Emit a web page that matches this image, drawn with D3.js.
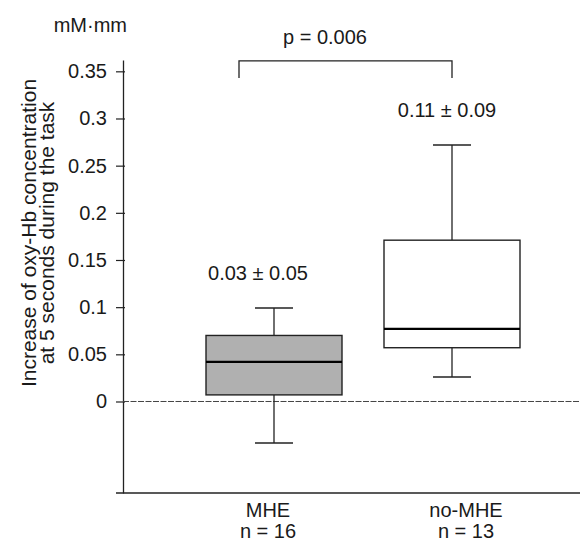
<!DOCTYPE html>
<html>
<head>
<meta charset="utf-8">
<script src="https://cdn.jsdelivr.net/npm/d3@7"></script>
<style>
    html, body {
        margin: 0;
        padding: 0;
        background: #fff;
    }

    svg text {
        font-family: "Liberation Sans", Arial, sans-serif;
        fill: #1a1a1a;
    }
</style>
</head>
<body>
<div id="chart"></div>
<script>
	// values
	const groups = ["MHE", "no-MHE"];
	const groupN = ["n = 16", "n = 13"];
	const whiskerLow = [-0.044, 0.026];
	const q1 = [0.007, 0.057];
	const median = [0.042, 0.077];
	const q3 = [0.070, 0.171];
	const whiskerHigh = [0.099, 0.272];
	const meanLabels = ["0.03 ± 0.05", "0.11 ± 0.09"];
	const yTicks = [0, 0.05, 0.1, 0.15, 0.2, 0.25, 0.3, 0.35];
	const pLabel = "p = 0.006";
	const unitLabel = "mM·mm";
	const yTitle = ["Increase of oxy-Hb concentration", "at 5 seconds during the task"];

	const width = 580;
	const height = 542;
	const axisX = 123;
	const boxWidth = 136;
	const capWidth = 38;
	const ink = "#222";
	const fills = {"MHE": "#b0b0b0", "no-MHE": "#ffffff"};

	const x = d3.scalePoint(groups, [274, 452]);
	const labelX = d3.scalePoint(groups, [268, 466]);
	const meanX = d3.scalePoint(groups, [258, 447]);
	const y = d3.scaleLinear([-0.097, 0.362], [493, 60]);

	const data = groups.map((g, i) => ({
		group: g,
		n: groupN[i],
		lo: whiskerLow[i],
		q1: q1[i],
		med: median[i],
		q3: q3[i],
		hi: whiskerHigh[i],
		mean: meanLabels[i]
	}));

	const svg = d3.select("#chart").append("svg")
			.attr("width", width)
			.attr("height", height)
			.attr("viewBox", [0, 0, width, height]);

	// y axis
	svg.append("g")
			.attr("transform", `translate(${axisX},0)`)
			.call(d3.axisLeft(y)
					.tickValues(yTicks)
					.tickSize(7)
					.tickSizeOuter(0)
					.tickPadding(9)
					.tickFormat(d => String(d)))
			.call(g => g.selectAll("line").attr("x1", 2).attr("stroke", ink).attr("stroke-width", 1.2))
			.call(g => g.select(".domain").attr("stroke", ink).attr("stroke-width", 1.3))
			.call(g => g.selectAll("text")
					.attr("font-size", 20)
					.attr("font-family", null)
					.attr("fill", "#1a1a1a"));

	// bottom line and zero reference
	svg.append("line")
			.attr("x1", axisX - 7).attr("x2", width)
			.attr("y1", y.range()[0]).attr("y2", y.range()[0])
			.attr("stroke", ink).attr("stroke-width", 1.3);

	svg.append("line")
			.attr("x1", axisX).attr("x2", width)
			.attr("y1", y(0)).attr("y2", y(0))
			.attr("stroke", "#444").attr("stroke-width", 1)
			.attr("stroke-dasharray", "6,1.5");

	// boxes
	const box = svg.selectAll("g.box")
			.data(data)
			.join("g")
			.attr("class", "box");

	box.append("line")
			.attr("x1", d => x(d.group)).attr("x2", d => x(d.group))
			.attr("y1", d => y(d.hi)).attr("y2", d => y(d.q3))
			.attr("stroke", ink).attr("stroke-width", 1.3);
	box.append("line")
			.attr("x1", d => x(d.group)).attr("x2", d => x(d.group))
			.attr("y1", d => y(d.q1)).attr("y2", d => y(d.lo))
			.attr("stroke", ink).attr("stroke-width", 1.3);
	box.selectAll("line.cap")
			.data(d => [d.hi, d.lo].map(v => ({group: d.group, v})))
			.join("line")
			.attr("class", "cap")
			.attr("x1", d => x(d.group) - capWidth / 2).attr("x2", d => x(d.group) + capWidth / 2)
			.attr("y1", d => y(d.v)).attr("y2", d => y(d.v))
			.attr("stroke", ink).attr("stroke-width", 1.5);
	box.append("rect")
			.attr("x", d => x(d.group) - boxWidth / 2)
			.attr("width", boxWidth)
			.attr("y", d => y(d.q3))
			.attr("height", d => y(d.q1) - y(d.q3))
			.attr("fill", d => fills[d.group])
			.attr("stroke", ink).attr("stroke-width", 1.4);
	box.append("line")
			.attr("x1", d => x(d.group) - boxWidth / 2).attr("x2", d => x(d.group) + boxWidth / 2)
			.attr("y1", d => y(d.med)).attr("y2", d => y(d.med))
			.attr("stroke", "#000").attr("stroke-width", 2.4);

	// mean ± sd labels
	box.append("text")
			.attr("x", d => meanX(d.group))
			.attr("y", d => y(d.hi) - 28)
			.attr("text-anchor", "middle")
			.attr("font-size", 20)
			.text(d => d.mean);

	// group labels
	box.append("text")
			.attr("x", d => labelX(d.group))
			.attr("y", 517)
			.attr("text-anchor", "middle")
			.attr("font-size", 20)
			.text(d => d.group);
	box.append("text")
			.attr("x", d => labelX(d.group))
			.attr("y", 538)
			.attr("text-anchor", "middle")
			.attr("font-size", 20)
			.text(d => d.n);

	// significance bracket
	const bx0 = x("MHE") - 35, bx1 = x("no-MHE");
	svg.append("path")
			.attr("d", `M${bx0},${y(0.343)}V${y(0.361)}H${bx1}V${y(0.343)}`)
			.attr("fill", "none")
			.attr("stroke", ink).attr("stroke-width", 1.3);
	svg.append("text")
			.attr("x", 325)
			.attr("y", y(0.361) - 17)
			.attr("text-anchor", "middle")
			.attr("font-size", 20)
			.text(pLabel);

	// unit and axis title
	svg.append("text")
			.attr("x", 127)
			.attr("y", 32)
			.attr("text-anchor", "end")
			.attr("font-size", 20)
			.text(unitLabel);

	svg.selectAll("text.ytitle")
			.data(yTitle)
			.join("text")
			.attr("class", "ytitle")
			.attr("transform", (d, i) => `translate(${36 + i * 18},233) rotate(-90)`)
			.attr("text-anchor", "middle")
			.attr("font-size", 21)
			.text(d => d);
</script>
</body>
</html>
